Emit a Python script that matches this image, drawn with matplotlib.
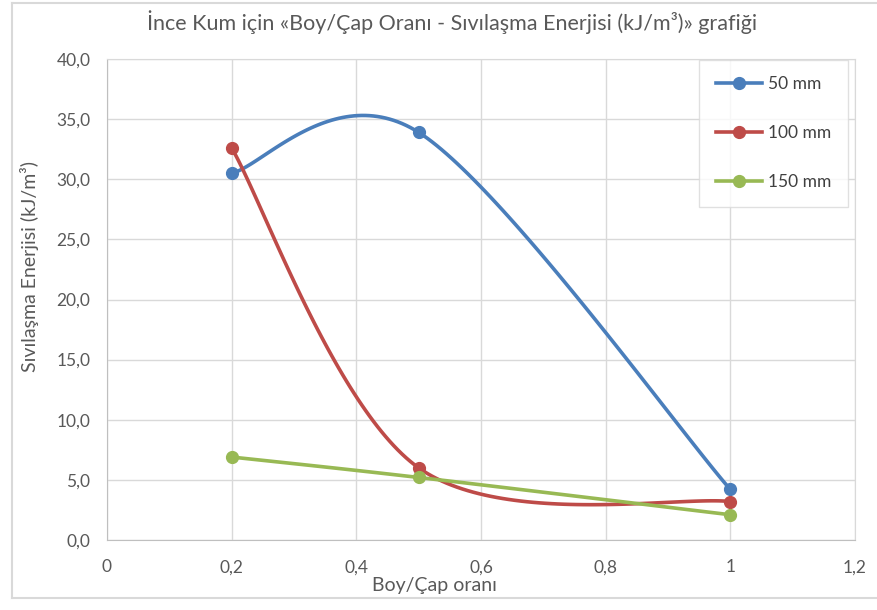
import numpy as np
import matplotlib
matplotlib.use("Agg")
import matplotlib.pyplot as plt
from matplotlib.lines import Line2D
from matplotlib.ticker import FuncFormatter

plt.rcParams["font.family"] = ["Lato", "DejaVu Sans"]

ratio = [0.2, 0.5, 1.0]
energy_50 = [30.5, 33.9, 4.2]
energy_100 = [32.6, 6.0, 3.2]
energy_150 = [6.9, 5.2, 2.1]
series_labels = ["50 mm", "100 mm", "150 mm"]
colors = ["#4A7EBB", "#BE4B48", "#98B954"]

title = "İnce Kum için «Boy/Çap Oranı - Sıvılaşma Enerjisi (kJ/m³)» grafiği"
x_label = "Boy/Çap oranı"
y_label = "Sıvılaşma Enerjisi (kJ/m³)"
text_color = "#595959"
grid_color = "#D9D9D9"


def smooth(xs, ys, n=60):
    # cubic bezier through the points, Catmull-Rom style tangents (Excel "smoothed line")
    p = np.column_stack([xs, ys]).astype(float)
    out = []
    for i in range(len(p) - 1):
        p0 = p[i - 1] if i > 0 else p[i]
        p1, p2 = p[i], p[i + 1]
        p3 = p[i + 2] if i + 2 < len(p) else p[i + 1]
        c1 = p1 + (p2 - p0) / 6
        c2 = p2 - (p3 - p1) / 6
        t = np.linspace(0, 1, n)[:, None]
        seg = ((1 - t) ** 3) * p1 + 3 * ((1 - t) ** 2) * t * c1 + 3 * (1 - t) * t ** 2 * c2 + t ** 3 * p2
        out.append(seg if i == 0 else seg[1:])
    seg = np.vstack(out)
    return seg[:, 0], seg[:, 1]


fig = plt.figure(figsize=(8.78, 6.10), dpi=100)
W, H = 878, 610
ax = fig.add_axes([107 / W, (H - 540) / H, (855 - 107) / W, (540 - 59) / H])

# chart frame
for (x0, y0, x1, y1) in [(12, 3, 878, 3), (12, 3, 12, 598), (12, 598, 878, 598)]:
    fig.add_artist(Line2D([x0 / W, x1 / W], [1 - y0 / H, 1 - y1 / H],
                          transform=fig.transFigure, color="#D9D9D9", lw=1.5))

for ys, lab, c in zip([energy_50, energy_100, energy_150], series_labels, colors):
    sx, sy = smooth(ratio, ys)
    ax.plot(sx, sy, color=c, lw=2.6, solid_capstyle="round", zorder=3)
    ax.plot(ratio, ys, "o", color=c, ms=8.5, zorder=4)

ax.set_xlim(0, 1.2)
ax.set_ylim(0, 40)
ax.set_xticks(np.arange(0, 1.21, 0.2))
ax.set_yticks(np.arange(0, 40.1, 5))
ax.xaxis.set_major_formatter(FuncFormatter(lambda v, _: ("%g" % round(v, 1)).replace(".", ",")))
ax.yaxis.set_major_formatter(FuncFormatter(lambda v, _: ("%.1f" % v).replace(".", ",")))
ax.grid(True, color=grid_color, lw=1)
ax.set_axisbelow(True)
for s in ax.spines.values():
    s.set_color(grid_color)
ax.spines["left"].set_color("#BFBFBF")
ax.spines["bottom"].set_color("#BFBFBF")
ax.tick_params(length=0, labelsize=12.5, colors=text_color, pad=14)
ax.tick_params(axis="y", pad=12)

ax.set_xlabel(x_label, fontsize=14, color=text_color)
ax.xaxis.set_label_coords(434 / W, 1 - 586 / H, transform=fig.transFigure)
ax.xaxis.label.set_va("center")
ax.set_ylabel(y_label, fontsize=14, color=text_color)
ax.yaxis.set_label_coords(30 / W, 1 - 267 / H, transform=fig.transFigure)
ax.yaxis.label.set_va("center")
fig.text(452 / W, 1 - 22 / H, title, ha="center", va="center", fontsize=15.5, color=text_color)

handles = [Line2D([], [], color=c, lw=2.6, marker="o", ms=8.5) for c in colors]
leg = ax.legend(handles, series_labels, loc="upper right", bbox_to_anchor=(0.99, 0.998),
                fontsize=12.5, frameon=True, fancybox=False, labelspacing=1.9,
                borderpad=0.95, handlelength=2.7, handletextpad=0.3, borderaxespad=0)
leg.get_frame().set_edgecolor(grid_color)
leg.get_frame().set_linewidth(1)
for t in leg.get_texts():
    t.set_color("#404040")

fig.savefig("out.png", dpi=100)
